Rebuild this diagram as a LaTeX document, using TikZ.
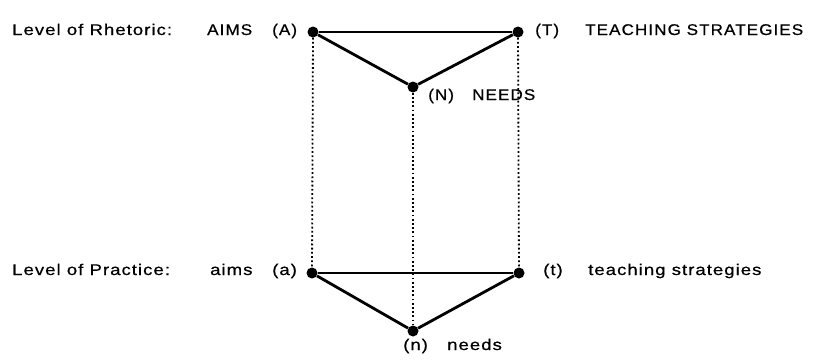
\documentclass[tikz,border=0pt]{standalone}
\usepackage{fontspec}
\setmainfont{Liberation Sans}[FakeStretch=1.2,LetterSpace=6.5,FakeBold=0.6]
\newfontfamily\capsfont{Liberation Sans}[FakeStretch=1.1,LetterSpace=7,FakeBold=0.6]
\begin{document}
\begin{tikzpicture}[x=1pt,y=-1pt,
  dot/.style={circle,fill=black,inner sep=0pt,minimum size=11pt},
  edge/.style={line width=2.8pt},
  drop/.style={line width=1.8pt,dash pattern=on 1.8pt off 2.4pt},
  lbl/.style={anchor=base west,inner sep=0pt,font=\fontsize{15.5}{18}\selectfont},
  caps/.style={lbl,font=\fontsize{15.5}{18}\capsfont}]
\useasboundingbox (0,0) rectangle (822,362);
% vertices
\node[dot] (A) at (313,32) {};
\node[dot] (T) at (518,32) {};
\node[dot] (N) at (413,87) {};
\node[dot] (a) at (312,273) {};
\node[dot] (t) at (519,273) {};
\node[dot] (n) at (413,331) {};
% dotted projections
\draw[drop] (A) -- (a);
\draw[drop] (N) -- (n);
\draw[drop] (T) -- (t);
% triangles
\draw[edge] (A) -- (T);
\draw[edge] (A) -- (N);
\draw[edge] (N) -- (T);
\draw[edge] (a) -- (t);
\draw[edge] (a) -- (n);
\draw[edge] (n) -- (t);
% labels, top level
\node[lbl] (lr) at (12,35) {Level of Rhetoric:};
\node[caps] (AIMS) at (207,35) {AIMS};
\node[caps] (Al) at (272,35) {(A)};
\node[caps] (Tl) at (535,35) {(T)};
\node[caps] (TS) at (585,35) {TEACHING STRATEGIES};
\node[caps] (Nl) at (428,100) {(N)};
\node[caps] (NEEDS) at (472,100) {NEEDS};
% labels, bottom level
\node[lbl] (lp) at (12,275) {Level of Practice:};
\node[lbl] (aims) at (210,275) {aims};
\node[lbl] (al) at (272,275) {(a)};
\node[lbl] (tl) at (543,275) {(t)};
\node[lbl] (ts) at (588,275) {teaching strategies};
\node[lbl] (nl) at (403,350) {(n)};
\node[lbl] (needs) at (447,350) {needs};
\end{tikzpicture}
\end{document}
